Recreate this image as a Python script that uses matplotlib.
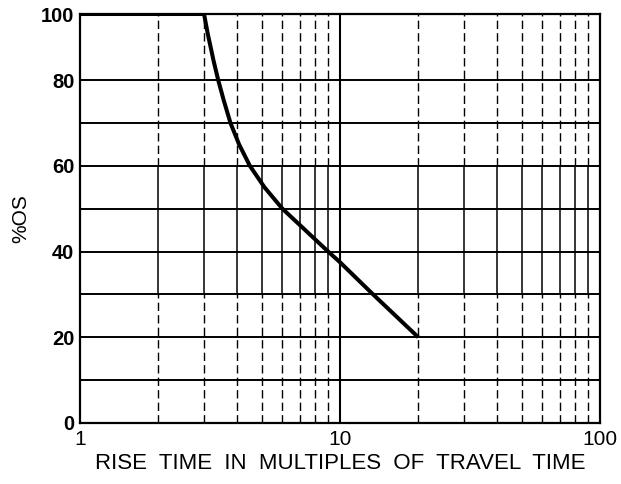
import numpy as np
import matplotlib
matplotlib.use("Agg")
import matplotlib.pyplot as plt
from matplotlib.ticker import FixedLocator, NullFormatter

plt.rcParams['font.family'] = ['Liberation Sans', 'DejaVu Sans']

# curve: rise time (x travel time) vs %OS
rise_time = [1, 3, 3.10, 3.20, 3.26, 3.40, 3.57, 3.79, 4.09, 4.50, 5.12, 6.0, 7.0, 8.0, 9.0, 10.0, 13.4, 20.0]
overshoot = [100, 100, 94, 89, 86, 80, 75.3, 70, 65, 60, 55, 50, 46.2, 42.9, 40, 37.5, 30, 20]

y_ticks = [0, 20, 40, 60, 80, 100]
y_grid = [10, 20, 30, 40, 50, 60, 70, 80]
x_ticks = [1, 10, 100]
x_ticklabels = ['1', '10', '100']
x_minor = [2, 3, 4, 5, 6, 7, 8, 9, 20, 30, 40, 50, 60, 70, 80, 90]

# the top band (80-100) is squeezed in the original drawing
K = 0.77


def fwd(y):
    y = np.asarray(y, dtype=float)
    return np.where(y <= 80, y, 80 + (y - 80) * K)


def inv(y):
    y = np.asarray(y, dtype=float)
    return np.where(y <= 80, y, 80 + (y - 80) / K)


fig = plt.figure(figsize=(6.21, 4.84), dpi=100)
ax = fig.add_axes([80 / 621, 61 / 484, 520 / 621, 409 / 484])
ax.set_xscale('log')
ax.set_yscale('function', functions=(fwd, inv))
ax.set_xlim(1, 100)
ax.set_ylim(0, 100)

# horizontal grid, solid
for y in y_grid:
    ax.axhline(y, color='black', lw=1.4, zorder=1)

# vertical grid: solid in the 30-60 band, dashed elsewhere
for x in x_minor:
    ax.vlines(x, 0, 30, colors='black', lw=1.0, linestyles=(0, (6, 3)), zorder=1)
    ax.vlines(x, 30, 60, colors='black', lw=1.1, zorder=1)
    ax.vlines(x, 60, 100, colors='black', lw=1.0, linestyles=(0, (6, 3)), zorder=1)
ax.axvline(10, color='black', lw=1.5, zorder=1)

ax.plot(rise_time, overshoot, color='black', lw=2.9, zorder=3,
        solid_joinstyle='round', solid_capstyle='butt')

for s in ax.spines.values():
    s.set_linewidth(1.6)

ax.yaxis.set_major_locator(FixedLocator(y_ticks))
ax.yaxis.set_minor_locator(FixedLocator([]))
ax.set_yticklabels([str(t) for t in y_ticks], fontweight='bold')
ax.xaxis.set_major_locator(FixedLocator(x_ticks))
ax.xaxis.set_minor_locator(FixedLocator([]))
ax.xaxis.set_minor_formatter(NullFormatter())
ax.set_xticklabels(x_ticklabels)
ax.tick_params(axis='both', length=0, labelsize=15)
ax.tick_params(axis='y', labelsize=14.5, pad=4)
ax.tick_params(axis='x', pad=5)

ax.set_ylabel('%OS', fontsize=15, labelpad=8)
ax.set_xlabel('RISE  TIME  IN  MULTIPLES  OF  TRAVEL  TIME', fontsize=16, labelpad=3)

fig.savefig('out.png', dpi=100)
